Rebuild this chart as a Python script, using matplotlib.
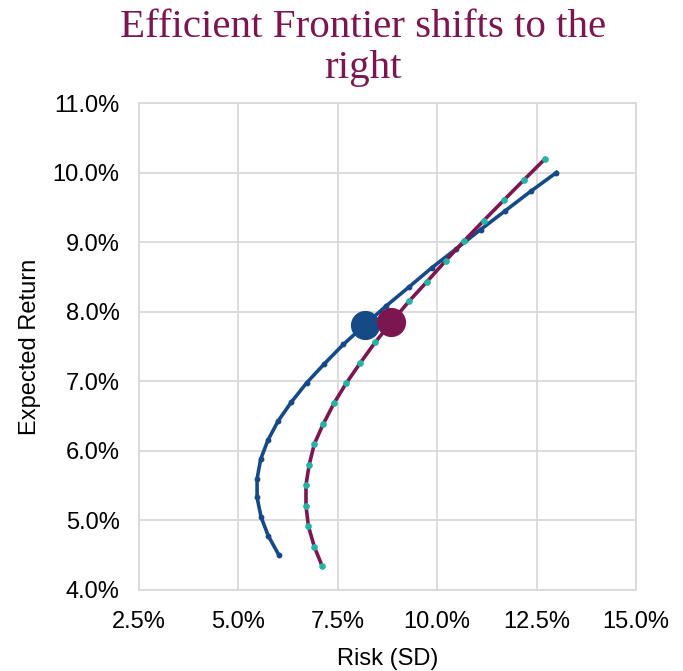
import matplotlib
matplotlib.use("Agg")
import matplotlib.pyplot as plt
from matplotlib.ticker import FuncFormatter

# Current frontier (risk %, return %)
current_risk = [6.02, 5.75, 5.57, 5.47, 5.47, 5.56, 5.74, 6.00, 6.33, 6.72, 7.16,
                7.64, 8.16, 8.71, 9.28, 9.86, 10.47, 11.09, 11.71, 12.35, 13.00]
current_return = [4.50, 4.78, 5.05, 5.33, 5.60, 5.88, 6.15, 6.43, 6.70, 6.98, 7.25,
                  7.53, 7.80, 8.08, 8.35, 8.63, 8.90, 9.18, 9.45, 9.73, 10.00]

# Shifted frontier
shifted_risk = [7.11, 6.91, 6.76, 6.70, 6.70, 6.78, 6.91, 7.13, 7.41, 7.71, 8.06,
                8.44, 8.85, 9.29, 9.74, 10.21, 10.68, 11.17, 11.67, 12.19, 12.70]
shifted_return = [4.34, 4.62, 4.92, 5.21, 5.51, 5.80, 6.10, 6.38, 6.69, 6.97, 7.26,
                  7.56, 7.85, 8.15, 8.43, 8.73, 9.02, 9.31, 9.60, 9.90, 10.19]

# Highlighted portfolios
current_point = (8.18, 7.81)
shifted_point = (8.85, 7.85)

x_ticks = [2.5, 5.0, 7.5, 10.0, 12.5, 15.0]
y_ticks = [4.0, 5.0, 6.0, 7.0, 8.0, 9.0, 10.0, 11.0]

BLUE = "#154A86"
MAROON = "#7C1650"
TEAL = "#22B5A6"
GRID = "#D9D9D9"

plt.rcParams["font.family"] = ["Liberation Sans", "DejaVu Sans"]

fig = plt.figure(figsize=(6.83, 6.71), dpi=100)
ax = fig.add_axes([139 / 683, 1 - 590 / 671, 497 / 683, 487 / 671])

ax.plot(current_risk, current_return, color=BLUE, lw=2.6, marker="o",
        ms=3.2, mfc=BLUE, mec=BLUE, zorder=3)
ax.plot(shifted_risk, shifted_return, color=MAROON, lw=2.6, marker="o",
        ms=3.8, mfc=TEAL, mec=TEAL, zorder=3)

ax.plot(*current_point, "o", color=BLUE, ms=20, zorder=4)
ax.plot(*shifted_point, "o", color=MAROON, ms=20, zorder=5)

ax.set_xlim(2.5, 15.0)
ax.set_ylim(4.0, 11.0)
ax.set_xticks(x_ticks)
ax.set_yticks(y_ticks)
pct = FuncFormatter(lambda v, _: f"{v:.1f}%")
ax.xaxis.set_major_formatter(pct)
ax.yaxis.set_major_formatter(pct)
ax.tick_params(axis="y", length=0, labelsize=17, pad=14)
ax.tick_params(axis="x", length=0, labelsize=17, pad=15)

ax.grid(True, color=GRID, lw=1.3)
ax.set_axisbelow(True)
for side in ax.spines.values():
    side.set_color(GRID)
    side.set_linewidth(1.3)

ax.set_xlabel("Risk (SD)", fontsize=17, labelpad=11)
ax.set_ylabel("Expected Return", fontsize=17, labelpad=8)

fig.text(363 / 683, 1 - 48 / 671, "Efficient Frontier shifts to the\nright",
         ha="center", va="center", fontsize=29.5, color=MAROON,
         family="Liberation Serif", linespacing=1.12)

fig.savefig("out.png", dpi=100)
